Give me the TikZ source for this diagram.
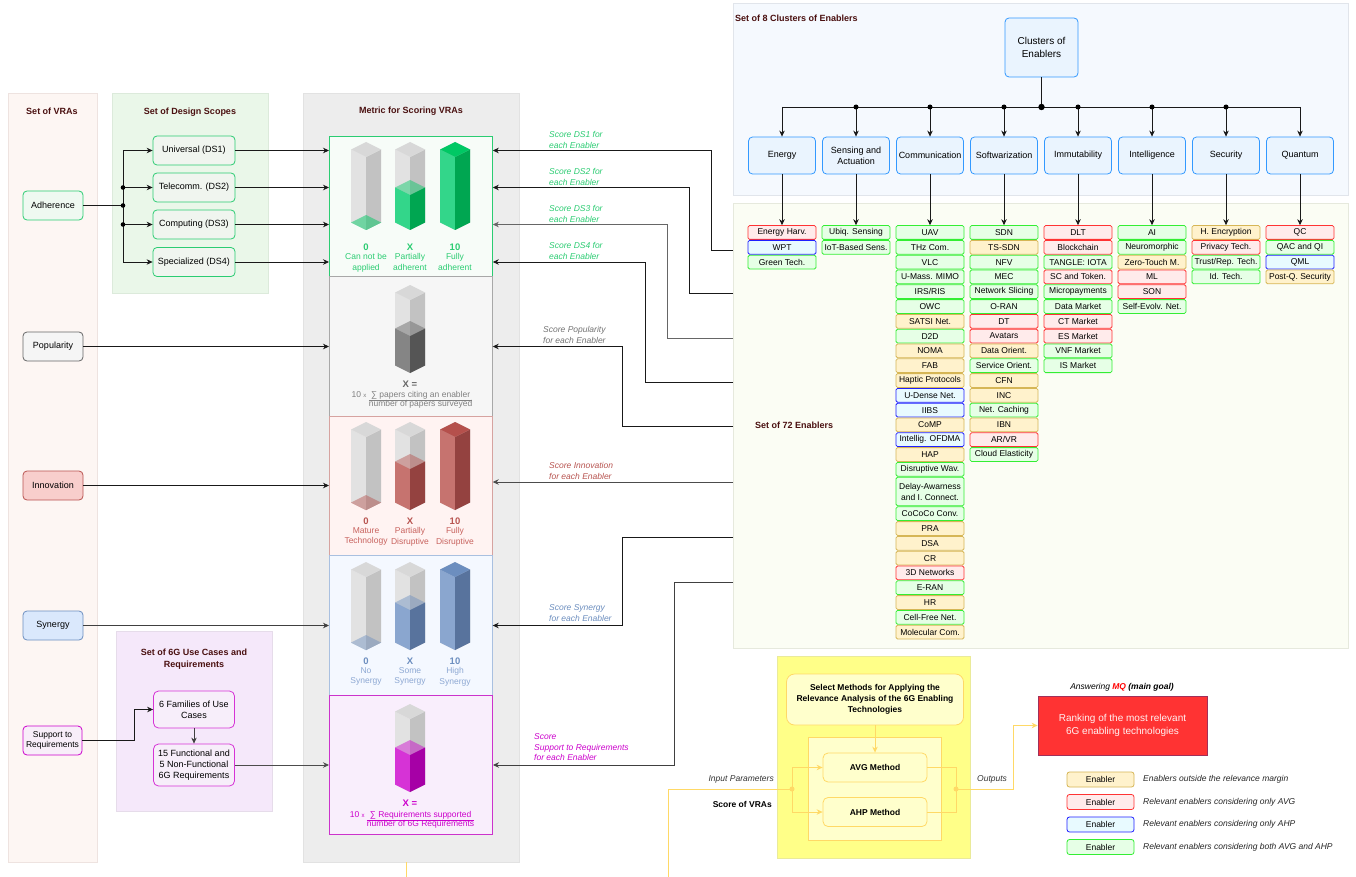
\documentclass[tikz,border=0pt]{standalone}
\usepackage{fontspec}
\setmainfont{Liberation Sans}
\usetikzlibrary{arrows.meta}
\definecolor{ttl}{HTML}{4A1010}
\definecolor{grB}{HTML}{2BCC72}
\definecolor{adL}{HTML}{33D68A}
\definecolor{adR}{HTML}{00A651}
\definecolor{adT}{HTML}{00C864}
\definecolor{innC}{HTML}{B85450}
\definecolor{innD}{HTML}{C8625E}
\definecolor{innL}{HTML}{C6736F}
\definecolor{innR}{HTML}{944240}
\definecolor{innT}{HTML}{B5504C}
\definecolor{synC}{HTML}{6C8EBF}
\definecolor{synD}{HTML}{8DA8D3}
\definecolor{synL}{HTML}{8AA6CF}
\definecolor{synR}{HTML}{58739D}
\definecolor{synT}{HTML}{6C8EBF}
\definecolor{supC}{HTML}{CC00CC}
\definecolor{popC}{HTML}{666666}
\definecolor{popL}{HTML}{858585}
\definecolor{popR}{HTML}{555555}
\definecolor{popT}{HTML}{6E6E6E}
\definecolor{supL}{HTML}{D633D6}
\definecolor{supR}{HTML}{A600A6}
\definecolor{yl}{HTML}{FFD966}
\definecolor{eYf}{HTML}{FFF2CC}\definecolor{eYd}{HTML}{D6B656}
\definecolor{eRf}{HTML}{FFEBEB}\definecolor{eRd}{HTML}{FF3333}
\definecolor{eBf}{HTML}{E8FAFF}\definecolor{eBd}{HTML}{1F1FFF}
\definecolor{eGf}{HTML}{E6FFE6}\definecolor{eGd}{HTML}{33EE33}
\newcommand\fa{\fontsize{8.5}{10.5}\selectfont}
\newcommand\fb{\fontsize{9}{11}\selectfont}
% cx, top y, fill-top y, left colour, right colour, top colour, top opacity
\newcommand\mycol[7]{%
  \fill[colL] (#1-15,#2+7.5) -- (#1,#2+15) -- (#1,#2+88) -- (#1-15,#2+80.5) -- cycle;
  \fill[colR] (#1,#2+15) -- (#1+15,#2+7.5) -- (#1+15,#2+80.5) -- (#1,#2+88) -- cycle;
  \fill[colT] (#1,#2) -- (#1+15,#2+7.5) -- (#1,#2+15) -- (#1-15,#2+7.5) -- cycle;
  \fill[#4] (#1-15,#3+7.5) -- (#1,#3+15) -- (#1,#2+88) -- (#1-15,#2+80.5) -- cycle;
  \fill[#5] (#1,#3+15) -- (#1+15,#3+7.5) -- (#1+15,#2+80.5) -- (#1,#2+88) -- cycle;
  \fill[#6,opacity=#7] (#1,#3) -- (#1+15,#3+7.5) -- (#1,#3+15) -- (#1-15,#3+7.5) -- cycle;
}
\definecolor{colL}{HTML}{E2E2E2}
\definecolor{colR}{HTML}{C2C2C2}
\definecolor{colT}{HTML}{D8D8D8}
\newcommand\lbl[6]{%
  \node[font=\bfseries\fontsize{9.5}{11}\selectfont, text=#3, inner sep=0pt] at (#1,#2) {#4};
  \node[anchor=north, align=center, font=\fontsize{8.5}{10.8}\selectfont, text=#6, inner sep=0pt] at (#1,#2+6) {#5};}
\newcommand\en[5]{\node[#4] (#1) at (#2,{232.5+14.8*#3}) {#5};}
\begin{document}
\begin{tikzpicture}[x=1pt,y=-1pt,
  pnl/.style={anchor=north west, inner sep=0pt, line width=0.6pt},
  ttlf/.style={font=\bfseries\fb, text=ttl, inner sep=0pt, align=center},
  ln/.style={line width=0.8pt, draw=black!90},
  arr/.style={ln, -{Stealth[length=6pt,width=5.5pt]}},
  yln/.style={line width=1pt, draw=yl},
  yarr/.style={yln, -{Stealth[length=6pt,width=5.5pt]}},
  vra/.style={rounded corners=4pt, minimum width=60pt, minimum height=29pt, inner sep=1pt, font=\fb, line width=0.8pt, align=center},
  dsb/.style={rounded corners=4pt, minimum width=82pt, minimum height=29pt, inner sep=1pt, font=\fb, line width=0.8pt, fill={rgb,255:red,240;green,245;blue,239}, draw=grB},
  ucb/.style={rounded corners=5pt, minimum width=81pt, inner sep=1pt, font=\fb, line width=0.8pt, fill={rgb,255:red,247;green,238;blue,250}, draw=supC!80, align=center},
  clb/.style={rounded corners=4pt, minimum width=67pt, minimum height=37pt, inner sep=1pt, font=\fb, line width=0.8pt, fill={rgb,255:red,234;green,244;blue,254}, draw={rgb,255:red,51;green,153;blue,255}, align=center},
  en/.style={rounded corners=1.5pt, minimum width=68pt, minimum height=13.8pt, inner sep=0pt, font=\fa, line width=0.8pt},
  eY/.style={en, fill=eYf, draw=eYd},
  eR/.style={en, fill=eRf, draw=eRd},
  eB/.style={en, fill=eBf, draw=eBd},
  eG/.style={en, fill=eGf, draw=eGd},
  slbl/.style={anchor=west, align=left, inner sep=0pt, font=\itshape\fontsize{8.5}{11}\selectfont},
  mbox/.style={anchor=north west, minimum width=163pt, inner sep=0pt},
]
\useasboundingbox (0,0) rectangle (1356,877);
\fill[white] (0,0) rectangle (1356,877);

% ---------- panels
\node[pnl, fill={rgb,255:red,253;green,246;blue,243}, draw={rgb,255:red,238;green,227;blue,224}, minimum width=89pt, minimum height=769pt] (pVRA) at (8,93) {};
\node[pnl, fill={rgb,255:red,234;green,247;blue,233}, draw={rgb,255:red,220;green,234;blue,219}, minimum width=156pt, minimum height=200pt] (pDS) at (112,93) {};
\node[pnl, fill={rgb,255:red,237;green,237;blue,237}, draw={rgb,255:red,226;green,226;blue,226}, minimum width=216pt, minimum height=769pt] (pMet) at (303,93) {};
\node[pnl, fill={rgb,255:red,245;green,232;blue,250}, draw={rgb,255:red,230;green,220;blue,234}, minimum width=156pt, minimum height=180pt] (pUC) at (116,631) {};
\node[pnl, fill={rgb,255:red,245;green,249;blue,254}, draw={rgb,255:red,225;green,229;blue,235}, minimum width=615pt, minimum height=192pt] (pCl) at (733,3) {};
\node[pnl, fill={rgb,255:red,251;green,253;blue,244}, draw={rgb,255:red,230;green,233;blue,221}, minimum width=615pt, minimum height=445pt] (pEn) at (733,203) {};
\node[pnl, fill={rgb,255:red,255;green,255;blue,136}, draw={rgb,255:red,234;green,234;blue,154}, minimum width=193pt, minimum height=202pt] (pY) at (777,656) {};
\node[pnl, fill={rgb,255:red,255;green,255;blue,204}, draw=yl, line width=0.8pt, minimum width=133pt, minimum height=103pt] (pYin) at (808,737) {};

% ---------- titles
\node[ttlf] (tVRA) at (52,111) {Set of VRAs};
\node[ttlf] (tDS) at (190,112) {Set of Design Scopes};
\node[ttlf] (tMet) at (411,111.5) {Metric for Scoring VRAs};
\node[ttlf, font=\bfseries\fontsize{9}{12}\selectfont] (tUC) at (194,659) {Set of 6G Use Cases and\\Requirements};
\node[ttlf, anchor=west] (tCl) at (735,18.5) {Set of 8 Clusters of Enablers};
\node[ttlf, anchor=west] (tEn) at (755,425) {Set of 72 Enablers};

% ---------- metric boxes
\node[mbox, minimum height=140pt, fill={rgb,255:red,247;green,252;blue,248}, draw=grB, line width=0.8pt] (mAdh) at (329,136) {};
\node[mbox, minimum height=140pt, fill={rgb,255:red,246;green,246;blue,246}, draw={rgb,255:red,168;green,168;blue,168}, line width=0.7pt] (mPop) at (329,276) {};
\node[mbox, minimum height=139pt, fill={rgb,255:red,255;green,243;blue,242}, draw={rgb,255:red,214;green,163;blue,160}, line width=0.7pt] (mInn) at (329,416) {};
\node[mbox, minimum height=140pt, fill={rgb,255:red,244;green,248;blue,255}, draw={rgb,255:red,169;green,192;blue,224}, line width=0.7pt] (mSyn) at (329,555) {};
\node[mbox, minimum height=139pt, fill={rgb,255:red,249;green,238;blue,252}, draw={rgb,255:red,204;green,51;blue,204}, line width=1pt] (mSup) at (329,695) {};

% ---------- columns
\mycol{366}{142}{215}{adL!60!white}{adR!70!white}{adT}{0.5}
\mycol{410}{142}{180}{adL}{adR}{adT}{0.45}
\mycol{455}{142}{142}{adL}{adR}{adT}{1}
\lbl{366}{247}{grB}{0}{Can not be\\applied}{grB}
\lbl{410}{247}{grB}{X}{Partially\\adherent}{grB}
\lbl{455}{247}{grB}{10}{Fully\\adherent}{grB}

\mycol{410}{285}{321}{popL}{popR}{popT}{0.5}
\node[font=\bfseries\fontsize{9.5}{11}\selectfont, text=popC, inner sep=0pt] (xPop) at (410,384) {X =};
\node[text=black!50, inner sep=0pt, font=\fontsize{8.5}{9.5}\selectfont] (fPop) at (412,400) {10 {\fontsize{6}{6}\selectfont x} \renewcommand\arraystretch{0.95}\begin{tabular}[t]{@{}c@{}}∑ papers citing an enabler\\\hline number of papers surveyed\end{tabular}};

\mycol{366}{422}{495}{innL!70!white}{innR!70!white}{innT}{0.45}
\mycol{410}{422}{454}{innL}{innR}{innT}{0.45}
\mycol{455}{422}{422}{innL}{innR}{innT}{1}
\lbl{366}{521}{innC}{0}{Mature\\Technology}{innD}
\lbl{410}{521}{innC}{X}{Partially\\Disruptive}{innD}
\lbl{455}{521}{innC}{10}{Fully\\Disruptive}{innD}

\mycol{366}{562}{635}{synL!70!white}{synR!70!white}{synT}{0.45}
\mycol{410}{562}{595}{synL}{synR}{synT}{0.45}
\mycol{455}{562}{562}{synL}{synR}{synT}{1}
\lbl{366}{661}{synC}{0}{No\\Synergy}{synD}
\lbl{410}{661}{synC}{X}{Some\\Synergy}{synD}
\lbl{455}{661}{synC}{10}{High\\Synergy}{synD}

\mycol{410}{704}{740}{supL}{supR}{supC}{0.45}
\node[font=\bfseries\fontsize{9.5}{11}\selectfont, text=supC, inner sep=0pt] (xSup) at (410,803) {X =};
\node[text=supC, inner sep=0pt, font=\fontsize{8.5}{9.5}\selectfont] (fSup) at (412,820) {10 {\fontsize{6}{6}\selectfont x} \renewcommand\arraystretch{0.95}\begin{tabular}[t]{@{}c@{}}∑ Requirements supported\\\hline number of 6G Requirements\end{tabular}};

% ---------- VRA nodes
\node[vra, fill={rgb,255:red,239;green,249;blue,241}, draw=grB] (adh) at (53,205.5) {Adherence};
\node[vra, fill={rgb,255:red,245;green,245;blue,245}, draw=popC] (pop) at (53,346.5) {Popularity};
\node[vra, fill={rgb,255:red,248;green,206;blue,204}, draw=innC] (inn) at (53,485.5) {Innovation};
\node[vra, fill={rgb,255:red,218;green,232;blue,252}, draw=synC] (syn) at (53,625.5) {Synergy};
\node[vra, minimum width=59pt, font=\fa, fill={rgb,255:red,248;green,238;blue,249}, draw=supC] (sup) at (52.5,740.5) {Support to\\Requirements};

% ---------- design scopes
\node[dsb] (ds1) at (194,150.5) {Universal (DS1)};
\node[dsb] (ds2) at (194,187.5) {Telecomm. (DS2)};
\node[dsb] (ds3) at (194,224.5) {Computing (DS3)};
\node[dsb] (ds4) at (194,262) {Specialized (DS4)};
\coordinate (jx) at (123,205.5);
\draw[ln] (adh) -- (jx);
\draw[arr] (jx) |- (ds1);
\draw[arr] (jx) |- (ds4);
\draw[arr] (jx |- ds2) -- (ds2);
\draw[arr] (jx |- ds3) -- (ds3);
\fill (jx) circle (2.3pt) (jx |- ds2) circle (2.3pt) (jx |- ds3) circle (2.3pt);
\foreach \d in {ds1,ds2,ds3,ds4} \draw[arr] (\d) -- (\d -| mAdh.west);

% ---------- other VRA arrows
\draw[arr] (pop) -- (pop -| mPop.west);
\draw[arr] (inn) -- (inn -| mInn.west);
\draw[arr, draw=black!75] (syn) -- (syn -| mSyn.west);

% ---------- use cases
\node[ucb, minimum height=37pt] (fam) at (194,709.5) {6 Families of Use\\Cases};
\node[ucb, minimum height=42pt] (req) at (194,765) {15 Functional and\\5 Non-Functional\\6G Requirements};
\draw[arr] (sup) -- (134,740.5) |- (fam);
\draw[arr, draw=black!75] (fam) -- (req);
\draw[arr, draw=black!70] (req) -- (req -| mSup.west);

% ---------- clusters
\node[clb, minimum width=73pt, minimum height=59pt, font=\fontsize{10}{13}\selectfont] (clTop) at (1041.5,47.5) {Clusters of\\Enablers};
\node[clb] (cl1) at (782,155.5) {Energy};
\node[clb] (cl2) at (856,155.5) {Sensing and\\Actuation};
\node[clb] (cl3) at (930,155.5) {Communication};
\node[clb] (cl4) at (1004,155.5) {Softwarization};
\node[clb] (cl5) at (1078,155.5) {Immutability};
\node[clb] (cl6) at (1152,155.5) {Intelligence};
\node[clb] (cl7) at (1226,155.5) {Security};
\node[clb] (cl8) at (1300,155.5) {Quantum};
\coordinate (hb) at (1041.5,107);
\draw[ln] (clTop) -- (hb);
\draw[ln] (cl1.north |- hb) -- (cl8.north |- hb);
\foreach \c in {cl1,cl2,cl3,cl4,cl5,cl6,cl7,cl8} \draw[arr] (\c.north |- hb) -- (\c);
\foreach \c in {cl2,cl3,cl4,cl5,cl6,cl7} \fill (\c.north |- hb) circle (2.5pt);
\fill (hb) circle (3.2pt);

% ---------- enablers
\en{aA}{782}{0}{eR}{Energy Harv.}
\en{aB}{782}{1}{eB}{WPT}
\en{aC}{782}{2}{eG}{Green Tech.}
\en{bA}{856}{0}{eG}{Ubiq. Sensing}
\en{bB}{856}{1}{eG}{IoT-Based Sens.}
\en{cA}{930}{0}{eG}{UAV}
\en{cB}{930}{1}{eG}{THz Com.}
\en{cC}{930}{2}{eG}{VLC}
\en{cD}{930}{3}{eG}{U-Mass. MIMO}
\en{cE}{930}{4}{eG}{IRS/RIS}
\en{cF}{930}{5}{eG}{OWC}
\en{cG}{930}{6}{eY}{SATSI Net.}
\en{cH}{930}{7}{eG}{D2D}
\en{cI}{930}{8}{eY}{NOMA}
\en{cJ}{930}{9}{eY}{FAB}
\en{cK}{930}{10}{eY}{Haptic Protocols}
\en{cL}{930}{11}{eB}{U-Dense Net.}
\en{cM}{930}{12}{eB}{IIBS}
\en{cN}{930}{13}{eY}{CoMP}
\en{cO}{930}{14}{eB}{Intellig. OFDMA}
\en{cP}{930}{15}{eY}{HAP}
\en{cQ}{930}{16}{eG}{Disruptive Wav.}
\en{cR}{930}{17.5}{eG,minimum height=28.6pt,align=center,font=\fontsize{8.5}{11}\selectfont}{Delay-Awarness\\and I. Connect.}
\en{cS}{930}{19}{eG}{CoCoCo Conv.}
\en{cT}{930}{20}{eY}{PRA}
\en{cU}{930}{21}{eY}{DSA}
\en{cV}{930}{22}{eY}{CR}
\en{cW}{930}{23}{eR}{3D Networks}
\en{cX}{930}{24}{eG}{E-RAN}
\en{cY}{930}{25}{eY}{HR}
\en{cZ}{930}{26}{eG}{Cell-Free Net.}
\en{cZZ}{930}{27}{eY}{Molecular Com.}
\en{dA}{1004}{0}{eG}{SDN}
\en{dB}{1004}{1}{eY}{TS-SDN}
\en{dC}{1004}{2}{eG}{NFV}
\en{dD}{1004}{3}{eG}{MEC}
\en{dE}{1004}{4}{eG}{Network Slicing}
\en{dF}{1004}{5}{eG}{O-RAN}
\en{dG}{1004}{6}{eR}{DT}
\en{dH}{1004}{7}{eR}{Avatars}
\en{dI}{1004}{8}{eY}{Data Orient.}
\en{dJ}{1004}{9}{eG}{Service Orient.}
\en{dK}{1004}{10}{eY}{CFN}
\en{dL}{1004}{11}{eY}{INC}
\en{dM}{1004}{12}{eG}{Net. Caching}
\en{dN}{1004}{13}{eY}{IBN}
\en{dO}{1004}{14}{eR}{AR/VR}
\en{dP}{1004}{15}{eG}{Cloud Elasticity}
\en{fA}{1078}{0}{eR}{DLT}
\en{fB}{1078}{1}{eR}{Blockchain}
\en{fC}{1078}{2}{eG}{TANGLE: IOTA}
\en{fD}{1078}{3}{eR}{SC and Token.}
\en{fE}{1078}{4}{eG}{Micropayments}
\en{fF}{1078}{5}{eG}{Data Market}
\en{fG}{1078}{6}{eR}{CT Market}
\en{fH}{1078}{7}{eR}{ES Market}
\en{fI}{1078}{8}{eG}{VNF Market}
\en{fJ}{1078}{9}{eG}{IS Market}
\en{gA}{1152}{0}{eG}{AI}
\en{gB}{1152}{1}{eG}{Neuromorphic}
\en{gC}{1152}{2}{eY}{Zero-Touch M.}
\en{gD}{1152}{3}{eR}{ML}
\en{gE}{1152}{4}{eR}{SON}
\en{gF}{1152}{5}{eG}{Self-Evolv. Net.}
\en{hA}{1226}{0}{eY}{H. Encryption}
\en{hB}{1226}{1}{eR}{Privacy Tech.}
\en{hC}{1226}{2}{eG}{Trust/Rep. Tech.}
\en{hD}{1226}{3}{eG}{Id. Tech.}
\en{kA}{1300}{0}{eR}{QC}
\en{kB}{1300}{1}{eG}{QAC and QI}
\en{kC}{1300}{2}{eB}{QML}
\en{kD}{1300}{3}{eY}{Post-Q. Security}
\draw[arr] (cl1) -- (aA);
\draw[arr] (cl2) -- (bA);
\draw[arr] (cl3) -- (cA);
\draw[arr] (cl4) -- (dA);
\draw[arr] (cl5) -- (fA);
\draw[arr] (cl6) -- (gA);
\draw[arr] (cl7) -- (hA);
\draw[arr] (cl8) -- (kA);

% ---------- score connectors (enablers -> metric)
\coordinate (o1) at (733,250);
\coordinate (o2) at (733,293);
\coordinate (o3) at (733,338);
\coordinate (o4) at (733,382);
\coordinate (o5) at (733,426);
\coordinate (o6) at (733,482);
\coordinate (o7) at (733,537);
\coordinate (o8) at (733,582);
\draw[arr] (o1) -- (711,250) |- (mAdh.east |- ds1);
\draw[arr] (o2) -- (689,293) |- (mAdh.east |- ds2);
\draw[arr, draw=black!60] (o3) -- (667,338) |- (mAdh.east |- ds3);
\draw[arr] (o4) -- (645,382) |- (mAdh.east |- ds4);
\draw[arr] (o5) -- (622,426) |- (mPop.east |- pop);
\draw[arr, draw=black!70] (o6) -- (mInn.east |- o6);
\draw[arr] (o7) -- (622,537) |- (mSyn.east |- syn);
\draw[arr, draw=black!75] (o8) -- (674,582) |- (mSup.east |- req);

\node[slbl, text=grB] (l1) at (549,139.5) {Score DS1 for\\each Enabler};
\node[slbl, text=grB] (l2) at (549,176.5) {Score DS2 for\\each Enabler};
\node[slbl, text=grB] (l3) at (549,213.5) {Score DS3 for\\each Enabler};
\node[slbl, text=grB] (l4) at (549,250.5) {Score DS4 for\\each Enabler};
\node[slbl, text=black!55] (l5) at (543,334.5) {Score Popularity\\for each Enabler};
\node[slbl, text=innC] (l6) at (549,470.5) {Score Innovation\\for each Enabler};
\node[slbl, text=synC] (l7) at (549,613.5) {Score Synergy\\for each Enabler};
\node[slbl, text=supC, font=\itshape\fontsize{8.5}{10.5}\selectfont] (l8) at (534,747.5) {Score\\Support to Requirements\\for each Enabler};

% ---------- methods
\node[rounded corners=8pt, fill={rgb,255:red,255;green,255;blue,204}, draw=yl, line width=0.8pt, minimum width=177pt, minimum height=51pt, align=center, inner sep=0pt, font=\bfseries\fontsize{8.5}{11}\selectfont] (sel) at (875,699.5) {Select Methods for Applying the\\Relevance Analysis of the 6G Enabling\\Technologies};
\node[rounded corners=5pt, fill={rgb,255:red,255;green,255;blue,204}, draw=yl, line width=0.8pt, minimum width=104pt, minimum height=29pt, inner sep=0pt, font=\bfseries\fa] (avg) at (875,767.5) {AVG Method};
\node[rounded corners=5pt, fill={rgb,255:red,255;green,255;blue,204}, draw=yl, line width=0.8pt, minimum width=104pt, minimum height=29pt, inner sep=0pt, font=\bfseries\fa] (ahp) at (875,812) {AHP Method};
\draw[yarr] (sel) -- (avg);
\coordinate (jin) at (792,789);
\coordinate (jout) at (956,789);
\coordinate (bIn) at (668,877);
\draw[yln] (bIn) |- (jin);
\draw[yarr] (jin) |- (avg);
\draw[yarr] (jin) |- (ahp);
\draw[yln] (avg) -| (jout);
\draw[yln] (ahp) -| (jout);
\fill[yl] (jin) circle (2.5pt) (jout) circle (2.5pt);
\coordinate (mB) at (406,862);
\coordinate (mB2) at (406,877);
\draw[yln] (mB) -- (mB2);
\node[anchor=east, inner sep=0pt, font=\itshape\fa, text=black!80] (tin) at (774,779) {Input Parameters};
\node[anchor=east, inner sep=0pt, font=\bfseries\fa] (tsv) at (772,804) {Score of VRAs};
\node[anchor=west, inner sep=0pt, font=\itshape\fa, text=black!80] (tout) at (977,779) {Outputs};

% ---------- ranking
\node[fill={rgb,255:red,255;green,51;blue,51}, draw={rgb,255:red,160;green,48;blue,90}, line width=0.8pt, minimum width=169pt, minimum height=59pt, inner sep=0pt, align=center, text=white!95!red, font=\fontsize{10}{13}\selectfont] (rank) at (1122.5,725.5) {Ranking of the most relevant\\6G enabling technologies};
\draw[yarr] (jout) -- (1013,789) |- (rank);
\node[inner sep=0pt, font=\itshape\fa] (ans) at (1122,687) {Answering \textcolor{red}{\bfseries MQ} \textbf{(main goal)}};

% ---------- legend
\node[eY, minimum width=67pt, minimum height=15pt, rounded corners=2.5pt] (lgY) at (1100.5,779.5) {Enabler};
\node[eR, minimum width=67pt, minimum height=15pt, rounded corners=2.5pt] (lgR) at (1100.5,802) {Enabler};
\node[eB, minimum width=67pt, minimum height=15pt, rounded corners=2.5pt] (lgB) at (1100.5,824.5) {Enabler};
\node[eG, minimum width=67pt, minimum height=15pt, rounded corners=2.5pt] (lgG) at (1100.5,847) {Enabler};
\node[anchor=west, inner sep=0pt, font=\itshape\fa, text=black!85] (lt1) at (1143,779.5) {Enablers outside the relevance margin};
\node[anchor=west, inner sep=0pt, font=\itshape\fa, text=black!85] (lt2) at (1143,802) {Relevant enablers considering only AVG};
\node[anchor=west, inner sep=0pt, font=\itshape\fa, text=black!85] (lt3) at (1143,824.5) {Relevant enablers considering only AHP};
\node[anchor=west, inner sep=0pt, font=\itshape\fa, text=black!85] (lt4) at (1143,847) {Relevant enablers considering both AVG and AHP};
\end{tikzpicture}
\end{document}
